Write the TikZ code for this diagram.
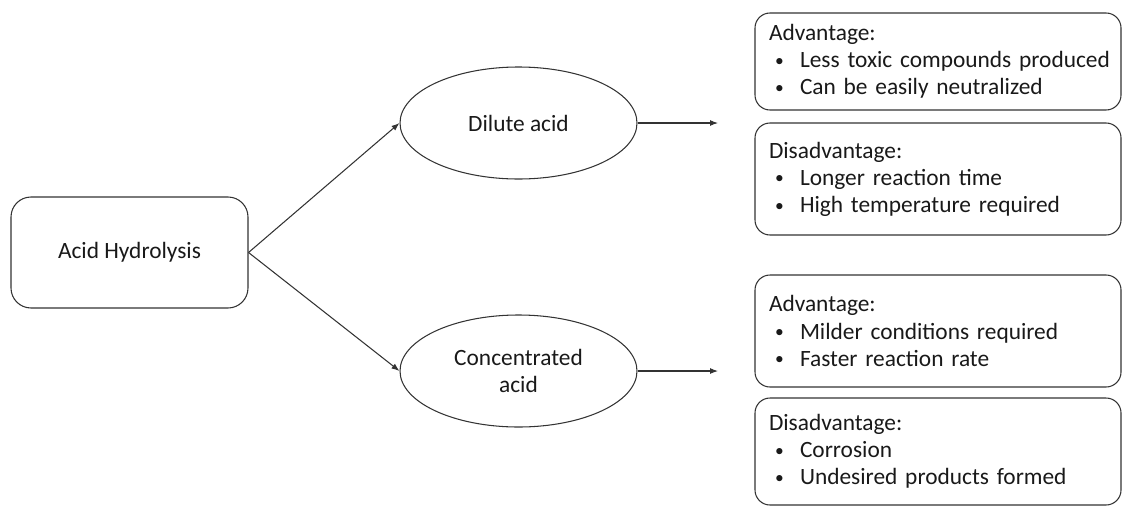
\documentclass[tikz,border=0pt]{standalone}
\usepackage{fontspec}
\setmainfont{Carlito}
\usepackage{tikz}
\usetikzlibrary{arrows.meta,positioning,shapes,calc}

\newcommand{\head}{\hspace*{0.12cm}}
\newcommand{\bul}{\hspace*{0.24cm}\makebox[0.5cm][l]{\raisebox{0.1ex}{\scalebox{0.75}{\textbullet}}}}

\begin{document}
\begin{tikzpicture}[
  every node/.style={font=\fontsize{13.3}{15.4}\selectfont, text=black!90},
  line/.style={draw=black!80, line width=0.6pt},
  startbox/.style={line, rounded corners=0.4cm, minimum width=4.74cm, minimum height=2.22cm},
  acidnode/.style={line, ellipse, minimum width=4.74cm, minimum height=2.24cm, align=center, inner sep=0pt},
  infobox/.style={line, rounded corners=0.3cm, minimum width=7.32cm, text width=7.0cm, inner xsep=0.16cm, align=left},
  arr/.style={line, -{Latex[length=0.16cm,width=0.12cm]}}
]
\useasboundingbox (0,0) rectangle (22.44,10.12);

% Start
\node[startbox] (hydro) at (2.59,5.07) {Acid Hydrolysis};

% Acid types
\node[acidnode] (dilute) at (10.37,7.66) {Dilute acid};
\node[acidnode] (conc) at (10.37,2.70) {Concentrated\\acid};

\draw[arr] (hydro.east) -- (dilute.west);
\draw[arr] (hydro.east) -- (conc.west);

% Arrow ends
\coordinate (diluteend) at (14.36,7.66);
\coordinate (concend) at (14.36,2.70);
\draw[arr] (dilute.east) -- (diluteend);
\draw[arr] (conc.east) -- (concend);

% Pros and cons
\node[infobox, minimum height=1.94cm] (diladv) at (18.76,8.89)
  {\head Advantage:\\ \bul Less toxic compounds produced\\ \bul Can be easily neutralized};
\node[infobox, minimum height=2.24cm] (dildis) at (18.76,6.54)
  {\head Disadvantage:\\ \bul Longer reaction time\\ \bul High temperature required};
\node[infobox, minimum height=2.24cm] (concadv) at (18.76,3.50)
  {\head Advantage:\\ \bul Milder conditions required\\ \bul Faster reaction rate};
\node[infobox, minimum height=2.14cm] (concdis) at (18.76,1.09)
  {\head Disadvantage:\\ \bul Corrosion\\ \bul Undesired products formed};

\end{tikzpicture}
\end{document}
